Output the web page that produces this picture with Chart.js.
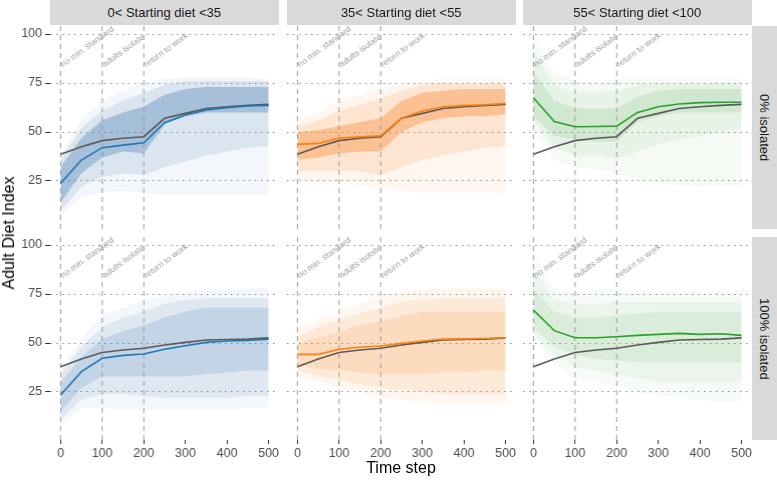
<!DOCTYPE html>
<html>
<head>
<meta charset="utf-8">
<script src="https://cdn.jsdelivr.net/npm/chart.js@4.4.1/dist/chart.umd.min.js"></script>
<style>
  body { margin: 0; background: #fff; }
  #wrap { position: relative; width: 777px; height: 480px; overflow: hidden;
          font-family: "Liberation Sans", Arial, sans-serif; }
  #wrap canvas { position: absolute; }
  .strip { position: absolute; background: #d9d9d9; color: #1a1a1a; font-size: 13px;
           display: flex; align-items: center; justify-content: center; white-space: nowrap; }
  .strip.side { writing-mode: vertical-rl; }
  .axis-title { position: absolute; color: #000; font-size: 16px; white-space: nowrap;
                transform: translate(-50%, -50%); }
</style>
</head>
<body>
<div id="wrap"></div>
<script>
// ---- data ----
var timeSteps = [0, 50, 100, 150, 200, 250, 300, 350, 400, 450, 500];
var dietGroups = ['0< Starting diet <35', '35< Starting diet <55', '55< Starting diet <100'];
var isolation = ['0% isolated', '100% isolated'];
var events = [0, 100, 200];
var eventLabels = ['no min. standard', 'adults isolate', 'return to work'];
var eventLabelY = 83;
var xTicks = [0, 100, 200, 300, 400, 500];
var yTicks = [25, 50, 75, 100];

// overall mean (grey), one per row
var overall0 = [38.6, 42.5, 45.6, 46.8, 47.6, 57.0, 59.5, 62.0, 62.9, 63.6, 64.1];
var overall100 = [37.9, 41.8, 45.2, 46.4, 47.3, 49.0, 50.3, 51.5, 51.8, 52.0, 52.6];

// group means
var lowMean0 = [23.8, 35.7, 42.0, 43.3, 44.5, 54.7, 58.7, 61.2, 62.4, 63.3, 63.6];
var midMean0 = [43.7, 44.2, 46.8, 47.5, 48.1, 57.0, 60.7, 62.9, 63.6, 63.9, 64.6];
var highMean0 = [67.5, 55.3, 52.7, 52.8, 53.0, 60.0, 62.9, 64.3, 65.0, 65.2, 65.2];
var lowMean100 = [23.5, 35.4, 42.2, 43.7, 44.4, 46.8, 48.6, 50.3, 51.0, 51.3, 51.9];
var midMean100 = [44.2, 44.2, 46.8, 47.8, 48.5, 49.8, 51.0, 52.0, 52.1, 52.3, 52.7];
var highMean100 = [66.8, 56.3, 52.7, 52.7, 53.2, 53.9, 54.4, 54.9, 54.4, 54.7, 53.9];

// spread of the individual runs: outer / middle / dense core (low, high)
var lowOuterLo0 = [7, 17, 19, 20, 19, 18, 18, 18, 18, 18, 18];
var lowOuterHi0 = [38, 57, 66, 71, 75, 77, 78, 78, 78, 78, 77];
var lowMidLo0 = [10, 22, 27, 29, 28, 32, 35, 38, 40, 42, 43];
var lowMidHi0 = [36, 52, 61, 66, 70, 74, 76, 76, 76, 76, 76];
var lowCoreLo0 = [14, 29, 37, 40, 39, 54, 58, 60, 60, 60, 60];
var lowCoreHi0 = [32, 47, 56, 60, 63, 69, 72, 73, 73, 73, 73];

var midOuterLo0 = [26, 24, 24, 23, 21, 20, 19, 19, 19, 19, 19];
var midOuterHi0 = [56, 60, 66, 69, 72, 74, 76, 77, 77, 77, 77];
var midMidLo0 = [30, 30, 30, 30, 28, 32, 36, 38, 40, 42, 43];
var midMidHi0 = [53, 56, 61, 64, 67, 71, 74, 75, 75, 75, 75];
var midCoreLo0 = [36, 37, 39, 40, 40, 50, 55, 57, 58, 58, 59];
var midCoreHi0 = [50, 51, 53, 55, 57, 66, 70, 71, 72, 72, 72];

var highOuterLo0 = [53, 36, 32, 31, 29, 26, 24, 23, 22, 22, 22];
var highOuterHi0 = [100, 80, 76, 76, 77, 77, 77, 77, 77, 77, 77];
var highMidLo0 = [56, 42, 38, 38, 36, 40, 44, 46, 48, 50, 52];
var highMidHi0 = [92, 74, 70, 70, 71, 74, 75, 75, 75, 75, 75];
var highCoreLo0 = [58, 48, 46, 45, 45, 55, 58, 60, 60, 60, 60];
var highCoreHi0 = [80, 66, 62, 62, 62, 68, 71, 72, 72, 72, 72];

var lowOuterLo100 = [8, 17, 17, 16, 16, 16, 16, 16, 16, 17, 17];
var lowOuterHi100 = [37, 52, 64, 68, 72, 74, 76, 77, 77, 78, 78];
var lowMidLo100 = [11, 21, 24, 24, 23, 22, 22, 22, 22, 23, 23];
var lowMidHi100 = [34, 48, 58, 63, 66, 70, 72, 73, 73, 73, 73];
var lowCoreLo100 = [15, 27, 33, 33, 33, 33, 33, 34, 35, 36, 36];
var lowCoreHi100 = [30, 43, 52, 56, 59, 63, 66, 68, 68, 68, 68];

var midOuterLo100 = [33, 30, 27, 25, 22, 21, 20, 19, 19, 19, 19];
var midOuterHi100 = [56, 62, 66, 70, 74, 76, 77, 78, 78, 78, 78];
var midMidLo100 = [36, 33, 31, 29, 27, 26, 25, 24, 24, 24, 24];
var midMidHi100 = [53, 58, 62, 65, 68, 71, 72, 73, 73, 73, 73];
var midCoreLo100 = [39, 37, 36, 35, 34, 34, 34, 35, 35, 36, 36];
var midCoreHi100 = [50, 53, 56, 59, 61, 64, 66, 66, 66, 66, 66];

var highOuterLo100 = [52, 40, 32, 30, 28, 25, 23, 22, 21, 20, 20];
var highOuterHi100 = [96, 76, 76, 77, 78, 77, 76, 76, 76, 76, 76];
var highMidLo100 = [55, 44, 38, 36, 34, 32, 30, 30, 30, 30, 30];
var highMidHi100 = [88, 72, 70, 70, 71, 71, 71, 71, 71, 71, 71];
var highCoreLo100 = [58, 48, 44, 42, 41, 40, 40, 40, 40, 40, 40];
var highCoreHi100 = [78, 66, 63, 63, 64, 65, 66, 66, 66, 66, 66];

// ---- layout / style ----
var FONT = '"Liberation Sans", Arial, sans-serif';
var PANEL_L = [50, 287, 523], PANEL_T = [26, 237];
var PANEL_W = 228.5, PANEL_H = 203;
var M = 14, AXIS_W = 50, AXIS_H = 32;
var lineColors = ['#1f77b4', '#ff7f0e', '#2ca02c'];
var cloudRgb = ['45,105,165', '250,125,30', '60,160,60'];
var cloudAlpha = [
  [[0.06, 0.12, 0.30], [0.07, 0.14, 0.35], [0.05, 0.07, 0.14]],
  [[0.06, 0.10, 0.16], [0.07, 0.10, 0.14], [0.04, 0.06, 0.10]]
];

var panels = [
  [
    { mean: lowMean0, bands: [[lowOuterLo0, lowOuterHi0], [lowMidLo0, lowMidHi0], [lowCoreLo0, lowCoreHi0]] },
    { mean: midMean0, bands: [[midOuterLo0, midOuterHi0], [midMidLo0, midMidHi0], [midCoreLo0, midCoreHi0]] },
    { mean: highMean0, bands: [[highOuterLo0, highOuterHi0], [highMidLo0, highMidHi0], [highCoreLo0, highCoreHi0]] }
  ],
  [
    { mean: lowMean100, bands: [[lowOuterLo100, lowOuterHi100], [lowMidLo100, lowMidHi100], [lowCoreLo100, lowCoreHi100]] },
    { mean: midMean100, bands: [[midOuterLo100, midOuterHi100], [midMidLo100, midMidHi100], [midCoreLo100, midCoreHi100]] },
    { mean: highMean100, bands: [[highOuterLo100, highOuterHi100], [highMidLo100, highMidHi100], [highCoreLo100, highCoreHi100]] }
  ]
];
var overall = [overall0, overall100];

function pts(vals) {
  return timeSteps.map(function(t, i) { return { x: t, y: vals[i] }; });
}

var eventText = {
  id: 'eventText',
  afterDatasetsDraw: function(chart) {
    var ctx = chart.ctx, xs = chart.scales.x, ys = chart.scales.y;
    ctx.save();
    ctx.font = '8.5px ' + FONT;
    ctx.fillStyle = '#9e9e9e';
    ctx.textBaseline = 'alphabetic';
    eventLabels.forEach(function(t, i) {
      ctx.save();
      ctx.translate(xs.getPixelForValue(events[i]) + 2.5, ys.getPixelForValue(eventLabelY));
      ctx.rotate(-36 * Math.PI / 180);
      ctx.fillText(t, 0, 0);
      ctx.restore();
    });
    ctx.restore();
  }
};

var wrap = document.getElementById('wrap');

function addDiv(cls, text, css) {
  var d = document.createElement('div');
  d.className = cls;
  d.textContent = text;
  for (var k in css) d.style[k] = css[k];
  wrap.appendChild(d);
}

function makePanel(r, c) {
  var p = panels[r][c];
  var leftExtra = c === 0 ? AXIS_W : 0;
  var bottomExtra = r === 1 ? AXIS_H : 0;
  var w = PANEL_W + 2 * M + leftExtra;
  var h = PANEL_H + 2 * M + bottomExtra;
  var canvas = document.createElement('canvas');
  canvas.width = w; canvas.height = h;
  canvas.style.width = w + 'px'; canvas.style.height = h + 'px';
  canvas.style.left = (PANEL_L[c] - M - leftExtra) + 'px';
  canvas.style.top = (PANEL_T[r] - M) + 'px';
  wrap.appendChild(canvas);

  var datasets = [];
  datasets.push({ data: pts(p.mean), borderColor: lineColors[c], borderWidth: 1.6, order: 0 });
  datasets.push({ data: pts(overall[r]), borderColor: '#5a5a5a', borderWidth: 1.6, order: 1 });
  events.forEach(function(e) {
    datasets.push({ data: [{ x: e, y: 0.5 }, { x: e, y: 104.1 }], borderColor: '#9a9a9a',
      borderWidth: 1, borderDash: [5, 4], order: 2 });
  });
  p.bands.forEach(function(b, k) {
    var col = 'rgba(' + cloudRgb[c] + ',' + cloudAlpha[r][c][k] + ')';
    datasets.push({ data: pts(b[0]), borderWidth: 0, borderColor: 'transparent', order: 10 - k });
    datasets.push({ data: pts(b[1]), borderWidth: 0, borderColor: 'transparent', backgroundColor: col,
      fill: '-1', order: 10 - k });
  });

  new Chart(canvas, {
    type: 'line',
    data: { datasets: datasets },
    options: {
      responsive: false, animation: false, devicePixelRatio: 1, events: [],
      layout: { padding: M },
      elements: { point: { radius: 0 }, line: { tension: 0 } },
      plugins: { legend: { display: false }, tooltip: { enabled: false } },
      scales: {
        x: {
          type: 'linear', min: -25, max: 525, display: r === 1,
          afterBuildTicks: function(s) { s.ticks = xTicks.map(function(v) { return { value: v }; }); },
          afterFit: function(s) { s.height = r === 1 ? AXIS_H : 0; },
          grid: { drawOnChartArea: false, drawTicks: true, tickLength: 4, tickColor: '#333', tickWidth: 1 },
          border: { display: false },
          ticks: { color: '#4d4d4d', font: { size: 12.5, family: FONT }, padding: 2, maxRotation: 0, autoSkip: false }
        },
        y: {
          type: 'linear', min: 0.5, max: 104.1,
          afterBuildTicks: function(s) { s.ticks = yTicks.map(function(v) { return { value: v }; }); },
          afterFit: function(s) { s.width = c === 0 ? AXIS_W : 0; },
          grid: { color: '#8c8c8c', lineWidth: 1, drawTicks: c === 0, tickLength: 5, tickColor: '#333',
                  tickWidth: 1, tickBorderDash: [] },
          border: { display: false, dash: [1.5, 4.5] },
          ticks: { display: c === 0, color: '#4d4d4d', font: { size: 12.5, family: FONT }, padding: 3 }
        }
      }
    },
    plugins: [eventText]
  });
}

for (var r = 0; r < 2; r++) {
  for (var c = 0; c < 3; c++) makePanel(r, c);
}

dietGroups.forEach(function(t, c) {
  addDiv('strip', t, { left: PANEL_L[c] + 'px', top: '0px', width: PANEL_W + 'px', height: '25px' });
});
isolation.forEach(function(t, r) {
  addDiv('strip side', t, { left: '752px', top: PANEL_T[r] + 'px', width: '25px', height: PANEL_H + 'px' });
});
addDiv('axis-title', 'Adult Diet Index', { left: '9px', top: '233px', transform: 'translate(-50%, -50%) rotate(-90deg)' });
addDiv('axis-title', 'Time step', { left: '401px', top: '468px' });
</script>
</body>
</html>
